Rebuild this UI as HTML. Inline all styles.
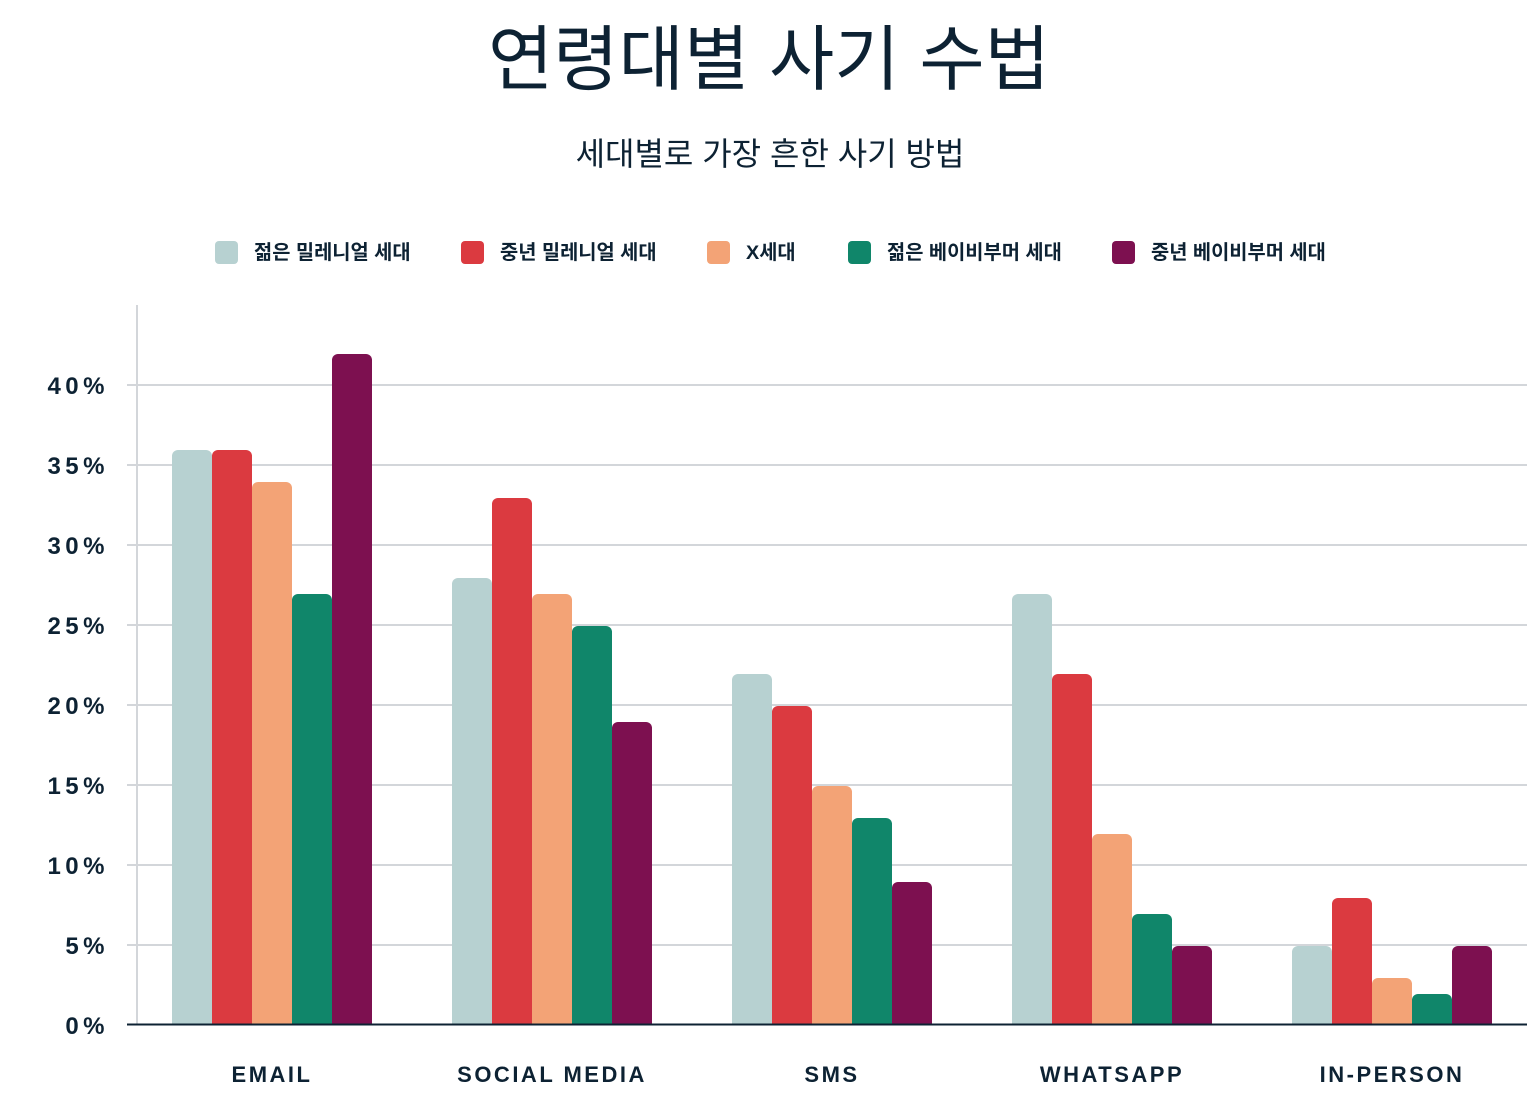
<!DOCTYPE html>
<html><head><meta charset="utf-8"><style>
html,body{margin:0;padding:0;background:#fff;}
svg{display:block;}
text{font-family:"Liberation Sans","Noto Sans CJK KR",sans-serif;fill:#0d2233;}
</style></head><body>
<svg width="1540" height="1111" viewBox="0 0 1540 1111" xmlns="http://www.w3.org/2000/svg">
<text x="769" y="84" font-size="71" text-anchor="middle" font-family="Noto Sans CJK KR, sans-serif">연령대별 사기 수법</text>
<text x="770" y="165" font-size="32" text-anchor="middle" font-family="Noto Sans CJK KR, sans-serif">세대별로 가장 흔한 사기 방법</text>
<g font-size="19.8" font-weight="bold" font-family="Noto Sans CJK KR, sans-serif">
<rect x="215" y="241" width="23" height="23" rx="4" fill="#b7d1d1"/><text x="254" y="259">젊은 밀레니얼 세대</text>
<rect x="461" y="241" width="23" height="23" rx="4" fill="#db3a40"/><text x="500" y="259">중년 밀레니얼 세대</text>
<rect x="707" y="241" width="23" height="23" rx="4" fill="#f3a376"/><text x="746" y="259">X세대</text>
<rect x="848" y="241" width="23" height="23" rx="4" fill="#10866a"/><text x="887" y="259">젊은 베이비부머 세대</text>
<rect x="1112" y="241" width="23" height="23" rx="4" fill="#7d1050"/><text x="1151" y="259">중년 베이비부머 세대</text>
</g>
<g stroke="#d3d6da" stroke-width="2">
<line x1="127" x2="1527" y1="945" y2="945"/><line x1="127" x2="1527" y1="865" y2="865"/>
<line x1="127" x2="1527" y1="785" y2="785"/><line x1="127" x2="1527" y1="705" y2="705"/>
<line x1="127" x2="1527" y1="625" y2="625"/><line x1="127" x2="1527" y1="545" y2="545"/>
<line x1="127" x2="1527" y1="465" y2="465"/><line x1="127" x2="1527" y1="385" y2="385"/>
<line x1="137" x2="137" y1="305" y2="1025"/>
</g>
<g font-size="24" font-weight="bold" text-anchor="end" letter-spacing="4.5">
<text x="109" y="1034">0%</text><text x="109" y="954">5%</text><text x="109" y="874">10%</text>
<text x="109" y="794">15%</text><text x="109" y="714">20%</text><text x="109" y="634">25%</text>
<text x="109" y="554">30%</text><text x="109" y="474">35%</text><text x="109" y="394">40%</text>
</g>
<g font-size="22" font-weight="bold" text-anchor="middle" letter-spacing="2.5">
<text x="272" y="1082">EMAIL</text><text x="552" y="1082">SOCIAL MEDIA</text>
<text x="832" y="1082">SMS</text><text x="1112" y="1082">WHATSAPP</text><text x="1392" y="1082">IN-PERSON</text>
</g>
<g>
<path d="M172 1025V456a6 6 0 0 1 6-6h28a6 6 0 0 1 6 6V1025Z" fill="#b7d1d1"/>
<path d="M212 1025V456a6 6 0 0 1 6-6h28a6 6 0 0 1 6 6V1025Z" fill="#db3a40"/>
<path d="M252 1025V488a6 6 0 0 1 6-6h28a6 6 0 0 1 6 6V1025Z" fill="#f3a376"/>
<path d="M292 1025V600a6 6 0 0 1 6-6h28a6 6 0 0 1 6 6V1025Z" fill="#10866a"/>
<path d="M332 1025V360a6 6 0 0 1 6-6h28a6 6 0 0 1 6 6V1025Z" fill="#7d1050"/>
<path d="M452 1025V584a6 6 0 0 1 6-6h28a6 6 0 0 1 6 6V1025Z" fill="#b7d1d1"/>
<path d="M492 1025V504a6 6 0 0 1 6-6h28a6 6 0 0 1 6 6V1025Z" fill="#db3a40"/>
<path d="M532 1025V600a6 6 0 0 1 6-6h28a6 6 0 0 1 6 6V1025Z" fill="#f3a376"/>
<path d="M572 1025V632a6 6 0 0 1 6-6h28a6 6 0 0 1 6 6V1025Z" fill="#10866a"/>
<path d="M612 1025V728a6 6 0 0 1 6-6h28a6 6 0 0 1 6 6V1025Z" fill="#7d1050"/>
<path d="M732 1025V680a6 6 0 0 1 6-6h28a6 6 0 0 1 6 6V1025Z" fill="#b7d1d1"/>
<path d="M772 1025V712a6 6 0 0 1 6-6h28a6 6 0 0 1 6 6V1025Z" fill="#db3a40"/>
<path d="M812 1025V792a6 6 0 0 1 6-6h28a6 6 0 0 1 6 6V1025Z" fill="#f3a376"/>
<path d="M852 1025V824a6 6 0 0 1 6-6h28a6 6 0 0 1 6 6V1025Z" fill="#10866a"/>
<path d="M892 1025V888a6 6 0 0 1 6-6h28a6 6 0 0 1 6 6V1025Z" fill="#7d1050"/>
<path d="M1012 1025V600a6 6 0 0 1 6-6h28a6 6 0 0 1 6 6V1025Z" fill="#b7d1d1"/>
<path d="M1052 1025V680a6 6 0 0 1 6-6h28a6 6 0 0 1 6 6V1025Z" fill="#db3a40"/>
<path d="M1092 1025V840a6 6 0 0 1 6-6h28a6 6 0 0 1 6 6V1025Z" fill="#f3a376"/>
<path d="M1132 1025V920a6 6 0 0 1 6-6h28a6 6 0 0 1 6 6V1025Z" fill="#10866a"/>
<path d="M1172 1025V952a6 6 0 0 1 6-6h28a6 6 0 0 1 6 6V1025Z" fill="#7d1050"/>
<path d="M1292 1025V952a6 6 0 0 1 6-6h28a6 6 0 0 1 6 6V1025Z" fill="#b7d1d1"/>
<path d="M1332 1025V904a6 6 0 0 1 6-6h28a6 6 0 0 1 6 6V1025Z" fill="#db3a40"/>
<path d="M1372 1025V984a6 6 0 0 1 6-6h28a6 6 0 0 1 6 6V1025Z" fill="#f3a376"/>
<path d="M1412 1025V1000a6 6 0 0 1 6-6h28a6 6 0 0 1 6 6V1025Z" fill="#10866a"/>
<path d="M1452 1025V952a6 6 0 0 1 6-6h28a6 6 0 0 1 6 6V1025Z" fill="#7d1050"/>
</g>
<line x1="127" x2="1527" y1="1024.5" y2="1024.5" stroke="#0d2233" stroke-width="2"/>
</svg>
</body></html>
